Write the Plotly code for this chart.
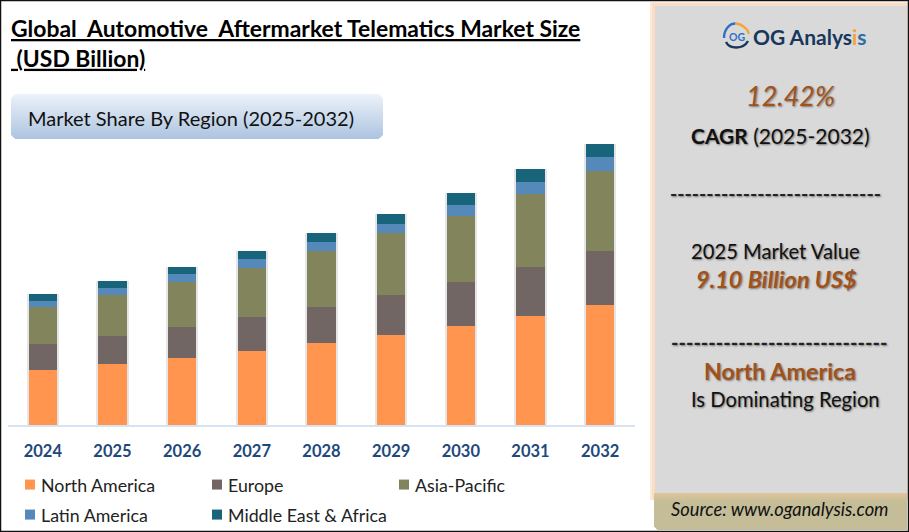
import plotly.graph_objects as go

years = ["2024", "2025", "2026", "2027", "2028", "2029", "2030", "2031", "2032"]
north_america = [3.48, 3.86, 4.24, 4.68, 5.18, 5.69, 6.26, 6.89, 7.59]
europe = [1.64, 1.77, 1.96, 2.15, 2.28, 2.53, 2.78, 3.10, 3.41]
asia_pacific = [2.34, 2.59, 2.84, 3.10, 3.54, 3.92, 4.17, 4.61, 5.06]
latin_america = [0.38, 0.44, 0.51, 0.57, 0.57, 0.57, 0.70, 0.76, 0.88]
middle_east_africa = [0.44, 0.44, 0.44, 0.51, 0.57, 0.63, 0.76, 0.82, 0.82]
totals = [sum(v) for v in zip(north_america, europe, asia_pacific, latin_america, middle_east_africa)]

series = [
    ("North America", north_america, "#FF954F", "legend"),
    ("Europe", europe, "#716664", "legend"),
    ("Asia-Pacific", asia_pacific, "#82855B", "legend"),
    ("Latin America", latin_america, "#5589BA", "legend2"),
    ("Middle East & Africa", middle_east_africa, "#17647B", "legend2"),
]

W, H = 909, 535
FONT = "Lato"
def px(x): return x / W
def py(y): return 1 - y / H

fig = go.Figure()
# soft drop shadow behind the columns
fig.add_trace(go.Bar(x=years, y=totals, width=0.46, marker=dict(color="rgba(0,0,0,0.10)", line_width=0),
                     showlegend=False, hoverinfo="skip", xaxis="x", yaxis="y"))
for name, vals, col, leg in series:
    fig.add_trace(go.Bar(x=years, y=vals, name=name, width=0.405, marker=dict(color=col, line_width=0),
                         xaxis="x2", yaxis="y", legend=leg))

shapes = []
def rect(x0, y0, x1, y1, fill, line=None, lw=0, layer="below"):
    shapes.append(dict(type="rect", xref="paper", yref="paper", x0=px(x0), x1=px(x1), y0=py(y0), y1=py(y1),
                       fillcolor=fill, line=dict(color=line or "rgba(0,0,0,0)", width=lw), layer=layer))

def lerp(a, b, t):
    return "#%02X%02X%02X" % tuple(round(a[i] + (b[i] - a[i]) * t) for i in range(3))

# right panel: peach glow, grey card, source band
rect(650, 2, 909, 500, "#FDE9D9")
rect(652, 3, 909, 500, "#FBDCC4")
rect(655, 6, 907, 494, "#D9D9D9")
for y in range(493, 530):
    t = min((y - 493) / 8, 1)
    inset = max(0, 3 - (529 - y)) if y > 526 else 0
    rect(654 + inset, y, 907, y + 1, lerp((224, 196, 154), (196, 189, 151), t))

# market share box gradient
bx0, bx1, by0, by1 = 11, 383, 94, 139
for y in range(by0, by1):
    t = (y - by0) / (by1 - by0 - 1)
    d = min(y - by0, by1 - 1 - y)
    inset = {0: 4, 1: 2.5, 2: 1.5, 3: 0.7}.get(d, 0)
    rect(bx0 + inset, y, bx1 - inset, y + 1, lerp((236, 242, 249), (173, 196, 224), t))

# logo ring
def ring_arc(path, color, width):
    shapes.append(dict(type="path", xref="paper", yref="paper", path=path, line=dict(color=color, width=width),
                       fillcolor="rgba(0,0,0,0)", layer="above"))
def P(x, y): return f"{px(x):.5f},{py(y):.5f}"
cx, cy, r = 736.5, 36, 12.5
k = 0.5523 * r
ring_arc(f"M{P(cx-r,cy+2)} C{P(cx-r,cy-k)} {P(cx-k,cy-r)} {P(cx-1,cy-r)}", "#2F6FC4", 2.4)
ring_arc(f"M{P(cx-1,cy-r)} C{P(cx+k*0.8,cy-r)} {P(cx+r,cy-k*0.8)} {P(cx+r-0.5,cy-2)}", "#F5A43A", 2.4)
ring_arc(f"M{P(cx-r+2,cy+6)} C{P(cx-k,cy+r+1)} {P(cx+k,cy+r+1)} {P(cx+r-1,cy+5)}", "#17375E", 2.4)

# outer frame
rect(0.5, 0.5, 908.5, 531.5, "rgba(0,0,0,0)", "#111111", 1.5, "above")

ann = []
def text(x, y, s, size, color="#000000", anchor="center", shadow=None, family=FONT):
    ann.append(dict(xref="paper", yref="paper", x=px(x), y=py(y), text=s, showarrow=False, xanchor=anchor, yanchor="middle",
                    align="left" if anchor == "left" else "center",
                    font=dict(family=family, size=size, color=color, **({"shadow": shadow} if shadow else {}))))

SH = "1px 1px 2px rgba(0,0,0,0.45)"
text(8.5, 43, "<b><u>Global  Automotive  Aftermarket Telematics Market Size</u><br><u> (USD Billion)</u></b>", 22.9, anchor="left")
text(191, 118, "Market Share By Region (2025-2032)", 20, "#111111")
text(736.5, 36.5, "<b>OG</b>", 10.5, "#2F6FC4")
text(810, 36, '<b>OG Analys<span style="color:#F5A43A">i</span><span style="color:#2F6F9F">s</span></b>', 21, "#17375E")
text(790, 96, "<i>12.42%</i>", 27, "#A0521A", shadow=SH)
text(780, 136, "<b>CAGR</b> (2025-2032)", 21, "#111111", shadow=SH)
text(775, 193.5, "<b>-----------------------------</b>", 19.5, "#222222", shadow=SH)
text(775.5, 250.5, "2025 Market Value", 20.2, "#111111", shadow=SH)
text(776, 278.5, "<b><i>9.10 Billion US$</i></b>", 23.5, "#A0521A", shadow=SH)
text(779, 341.5, "<b>-----------------------------</b>", 20, "#222222", shadow=SH)
text(780, 370.5, "<b>North America</b>", 23.3, "#A0521A", shadow=SH)
text(785, 398.5, "Is Dominating Region", 20.2, "#111111", shadow=SH)
text(780, 509, "<i>Source: www.oganalysis.com</i>", 18.3, "#111111")

axis_line = "#D6E3F2"
legend_common = dict(orientation="h", xanchor="left", yanchor="middle", entrywidth=142, entrywidthmode="pixels",
                     traceorder="normal", itemwidth=30, bgcolor="rgba(0,0,0,0)",
                     font=dict(family=FONT, size=17.8, color="#222222"))
fig.update_layout(
    width=W, height=H, autosize=False, margin=dict(l=0, r=0, t=0, b=0),
    paper_bgcolor="white", plot_bgcolor="rgba(0,0,0,0)", barmode="stack", bargap=0.6,
    font=dict(family=FONT),
    shapes=shapes, annotations=ann,
    xaxis=dict(domain=[px(8), px(635)], type="category", categoryorder="array", categoryarray=years,
               range=[-0.5, 8.5], showgrid=False, showline=True, linecolor=axis_line, linewidth=2,
               ticks="", ticklabelstandoff=10,
               tickfont=dict(family=FONT, size=16.5, color="#1F497D", weight="bold")),
    xaxis2=dict(domain=[px(8), px(635)], overlaying="x", anchor="y", type="category", categoryorder="array",
                categoryarray=years, range=[-0.5, 8.5], showgrid=False, showline=False, showticklabels=False),
    yaxis=dict(domain=[py(425), py(125)], range=[0, 18.96], visible=False, showgrid=False),
    legend=dict(x=px(10), y=py(485), **legend_common),
    legend2=dict(x=px(10), y=py(515), **legend_common),
)
post = """
var s = document.createElement('style');
s.textContent = "html,body{margin:0;padding:0;overflow:hidden}"
  + ".legendtext,.legend2text{transform:translateX(-9px)}"
  + ".legendpoints path,.legend2points path{d:path('M5,5H-5V-5H5Z')}"
  + ".legend .scrollbox,.legend2 .scrollbox,.legend2 *{clip-path:none !important}";
document.head.appendChild(s);
"""
fig.write_html("out.html", post_script=post, config={"displayModeBar": False})
